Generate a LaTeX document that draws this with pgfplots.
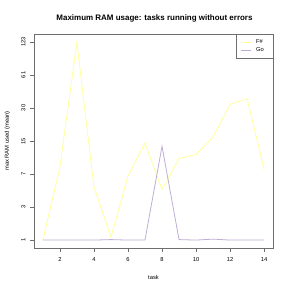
\documentclass[border=0pt]{standalone}
\usepackage{pgfplots}
\pgfplotsset{compat=1.18}
\usepackage{fontspec}
\setmainfont{Liberation Sans}
\definecolor{fsharp}{HTML}{FFFF99}
\definecolor{golang}{HTML}{BEAED4}
\definecolor{boxc}{HTML}{6E6E6E}
\begin{document}
\begin{tikzpicture}
\useasboundingbox (0bp,0bp) rectangle (291bp,291bp);
\node[font=\fontsize{8}{9}\selectfont\bfseries] at (154.5bp,273bp) {Maximum RAM usage: tasks running without errors};
\begin{axis}[
  at={(34bp,43bp)}, anchor=south west,
  scale only axis, width=239bp, height=214bp,
  xmin=0.48, xmax=14.52,
  ymode=log, log basis y=2,
  ymin=0.8467, ymax=75.6,
  xtick={2,4,...,14},
  ytick={1,2,4,8,16,32,64},
  yticklabels={1,3,7,15,30,61,123},
  /pgf/number format/assume math mode=true,
  ticklabel style={font=\fontsize{5.8}{6}\selectfont},
  yticklabel style={rotate=90, anchor=south, yshift=1bp},
  tick align=outside, tick pos=left,
  major tick length=4bp,
  every tick/.style={boxc, line width=0.5pt},
  axis line style={boxc, line width=0.6pt},
  xlabel={task}, ylabel={max RAM used (mean)},
  label style={font=\fontsize{5.8}{6}\selectfont},
  xlabel style={at={(axis description cs:0.5,0)}, anchor=center, yshift=-29.5bp},
  ylabel style={at={(axis description cs:0,0.5)}, anchor=center, rotate=0, yshift=26.5bp},
  xticklabel style={yshift=-2bp},
  legend style={at={(rel axis cs:1,1)}, anchor=north east, draw=boxc, line width=0.5pt,
    font=\fontsize{5.8}{6}\selectfont, inner xsep=4bp, inner ysep=3.5bp, row sep=0bp,
    nodes={inner xsep=5bp, inner ysep=1.5bp},
    cells={anchor=west}},
  legend image code/.code={\draw[#1] (0bp,0bp) -- (10bp,0bp);},
]
\addplot[fsharp, line width=0.8pt] coordinates {
(1,1) (2,4.63) (3,63.5) (4,3.05) (5,1.06) (6,3.84) (7,7.67) (8,2.89) (9,5.54) (10,6.02) (11,8.69) (12,17.27) (13,19.43) (14,4.38)};
\addlegendentry{F\#}
\addplot[golang, line width=0.8pt] coordinates {
(1,1) (2,1) (3,1) (4,1) (5,1.01) (6,1) (7,1) (8,7.16) (9,1.01) (10,1) (11,1.02) (12,1) (13,1) (14,1)};
\addlegendentry{Go}
\end{axis}
\end{tikzpicture}
\end{document}
